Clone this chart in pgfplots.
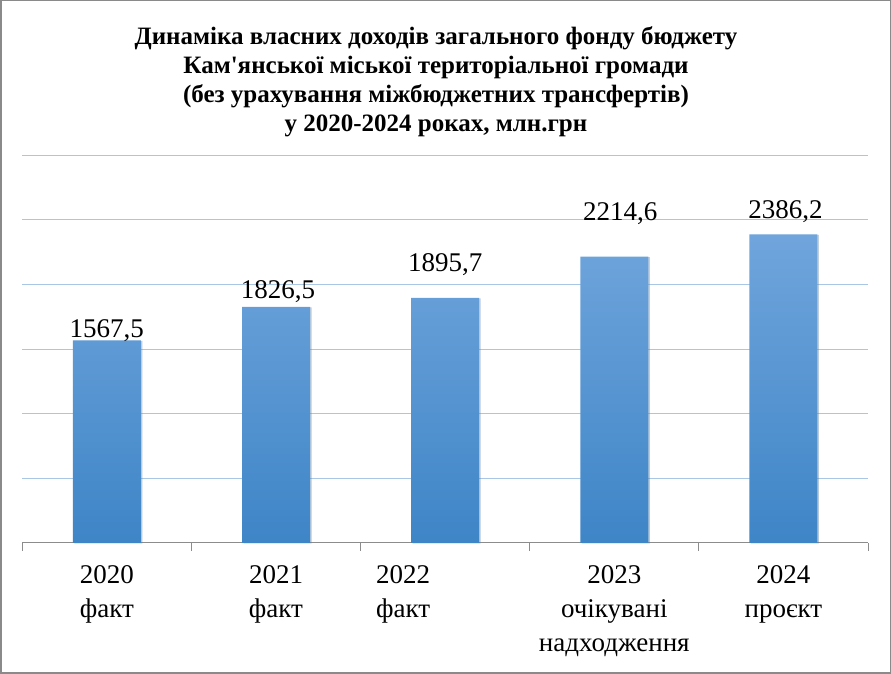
\documentclass[border=0pt]{standalone}
\usepackage{fontspec}
\setmainfont{Liberation Serif}[Ligatures=TeXOff]
\usepackage{pgfplots}
\pgfplotsset{compat=1.18}
\usetikzlibrary{shadows}

\definecolor{bartop}{HTML}{70A5DC}
\definecolor{barbot}{HTML}{3E85C7}
\definecolor{gridc}{HTML}{A9C7E4}
\definecolor{axisc}{HTML}{8C8C8C}
\definecolor{framec}{HTML}{8A8A8A}

\begin{document}
\begin{tikzpicture}[x=1pt,y=1pt]
\useasboundingbox (0,0) rectangle (891,674);
\draw[framec, line width=1.5pt] (0.75,0.75) rectangle (890.25,673.25);

\node[anchor=north, align=center, inner sep=0pt,
      font=\fontsize{25}{29}\selectfont\bfseries] at (436,648)
  {Динаміка власних доходів загального фонду бюджету\\
   Кам'янської міської територіальної громади\\
   (без урахування міжбюджетних трансфертів)\\
   у 2020-2024 роках, млн.грн};

\begin{axis}[
  at={(22.3pt,131pt)}, anchor=south west,
  scale only axis, width=845.7pt, height=388pt,
  xmin=-0.5, xmax=4.5, ymin=0, ymax=3000,
  axis x line*=bottom, axis y line*=left,
  x axis line style={draw=axisc, line width=1pt, -},
  y axis line style={draw=none},
  ytick={500,1000,...,3000}, yticklabels={},
  ytick style={draw=none},
  ymajorgrids, major grid style={gridc, line width=0.8pt},
  xtick={0,1,2,3,4},
  xticklabels={{2020\\факт},{2021\\факт},{2022\hspace*{84pt}\\факт\hspace*{84pt}},{2023\\очікувані\\надходження},{2024\\проєкт}},
  major x tick style={draw=none},
  minor xtick={-0.5,0.5,...,4.5},
  minor x tick style={draw=axisc, line width=1pt},
  minor tick length=8pt, tick align=outside,
  xticklabel style={align=center, font=\fontsize{27}{34}\selectfont, yshift=-15pt},
  clip=false,
]
\addplot[ybar, bar width=68pt, draw=none, top color=bartop, bottom color=barbot,
  drop shadow={shadow xshift=1.5pt, shadow yshift=-0.5pt, opacity=0.25},
  nodes near coords,
  point meta=explicit symbolic,
  visualization depends on={\thisrow{dy} \as \dy},
  visualization depends on={\thisrow{dx} \as \dx},
  nodes near coords style={anchor=base, inner sep=0pt, yshift=\dy pt, xshift=\dx pt,
    font=\fontsize{27}{32}\selectfont, text=black},
] table[x=x, y=y, meta=lab] {
x y dy dx lab
0 1567.5 3 0 1567,5
1 1826.5 8 2 1826,5
2 1895.7 26 0 1895,7
3 2214.6 36 6 2214,6
4 2386.2 16 2 2386,2
};
\end{axis}
\end{tikzpicture}
\end{document}
